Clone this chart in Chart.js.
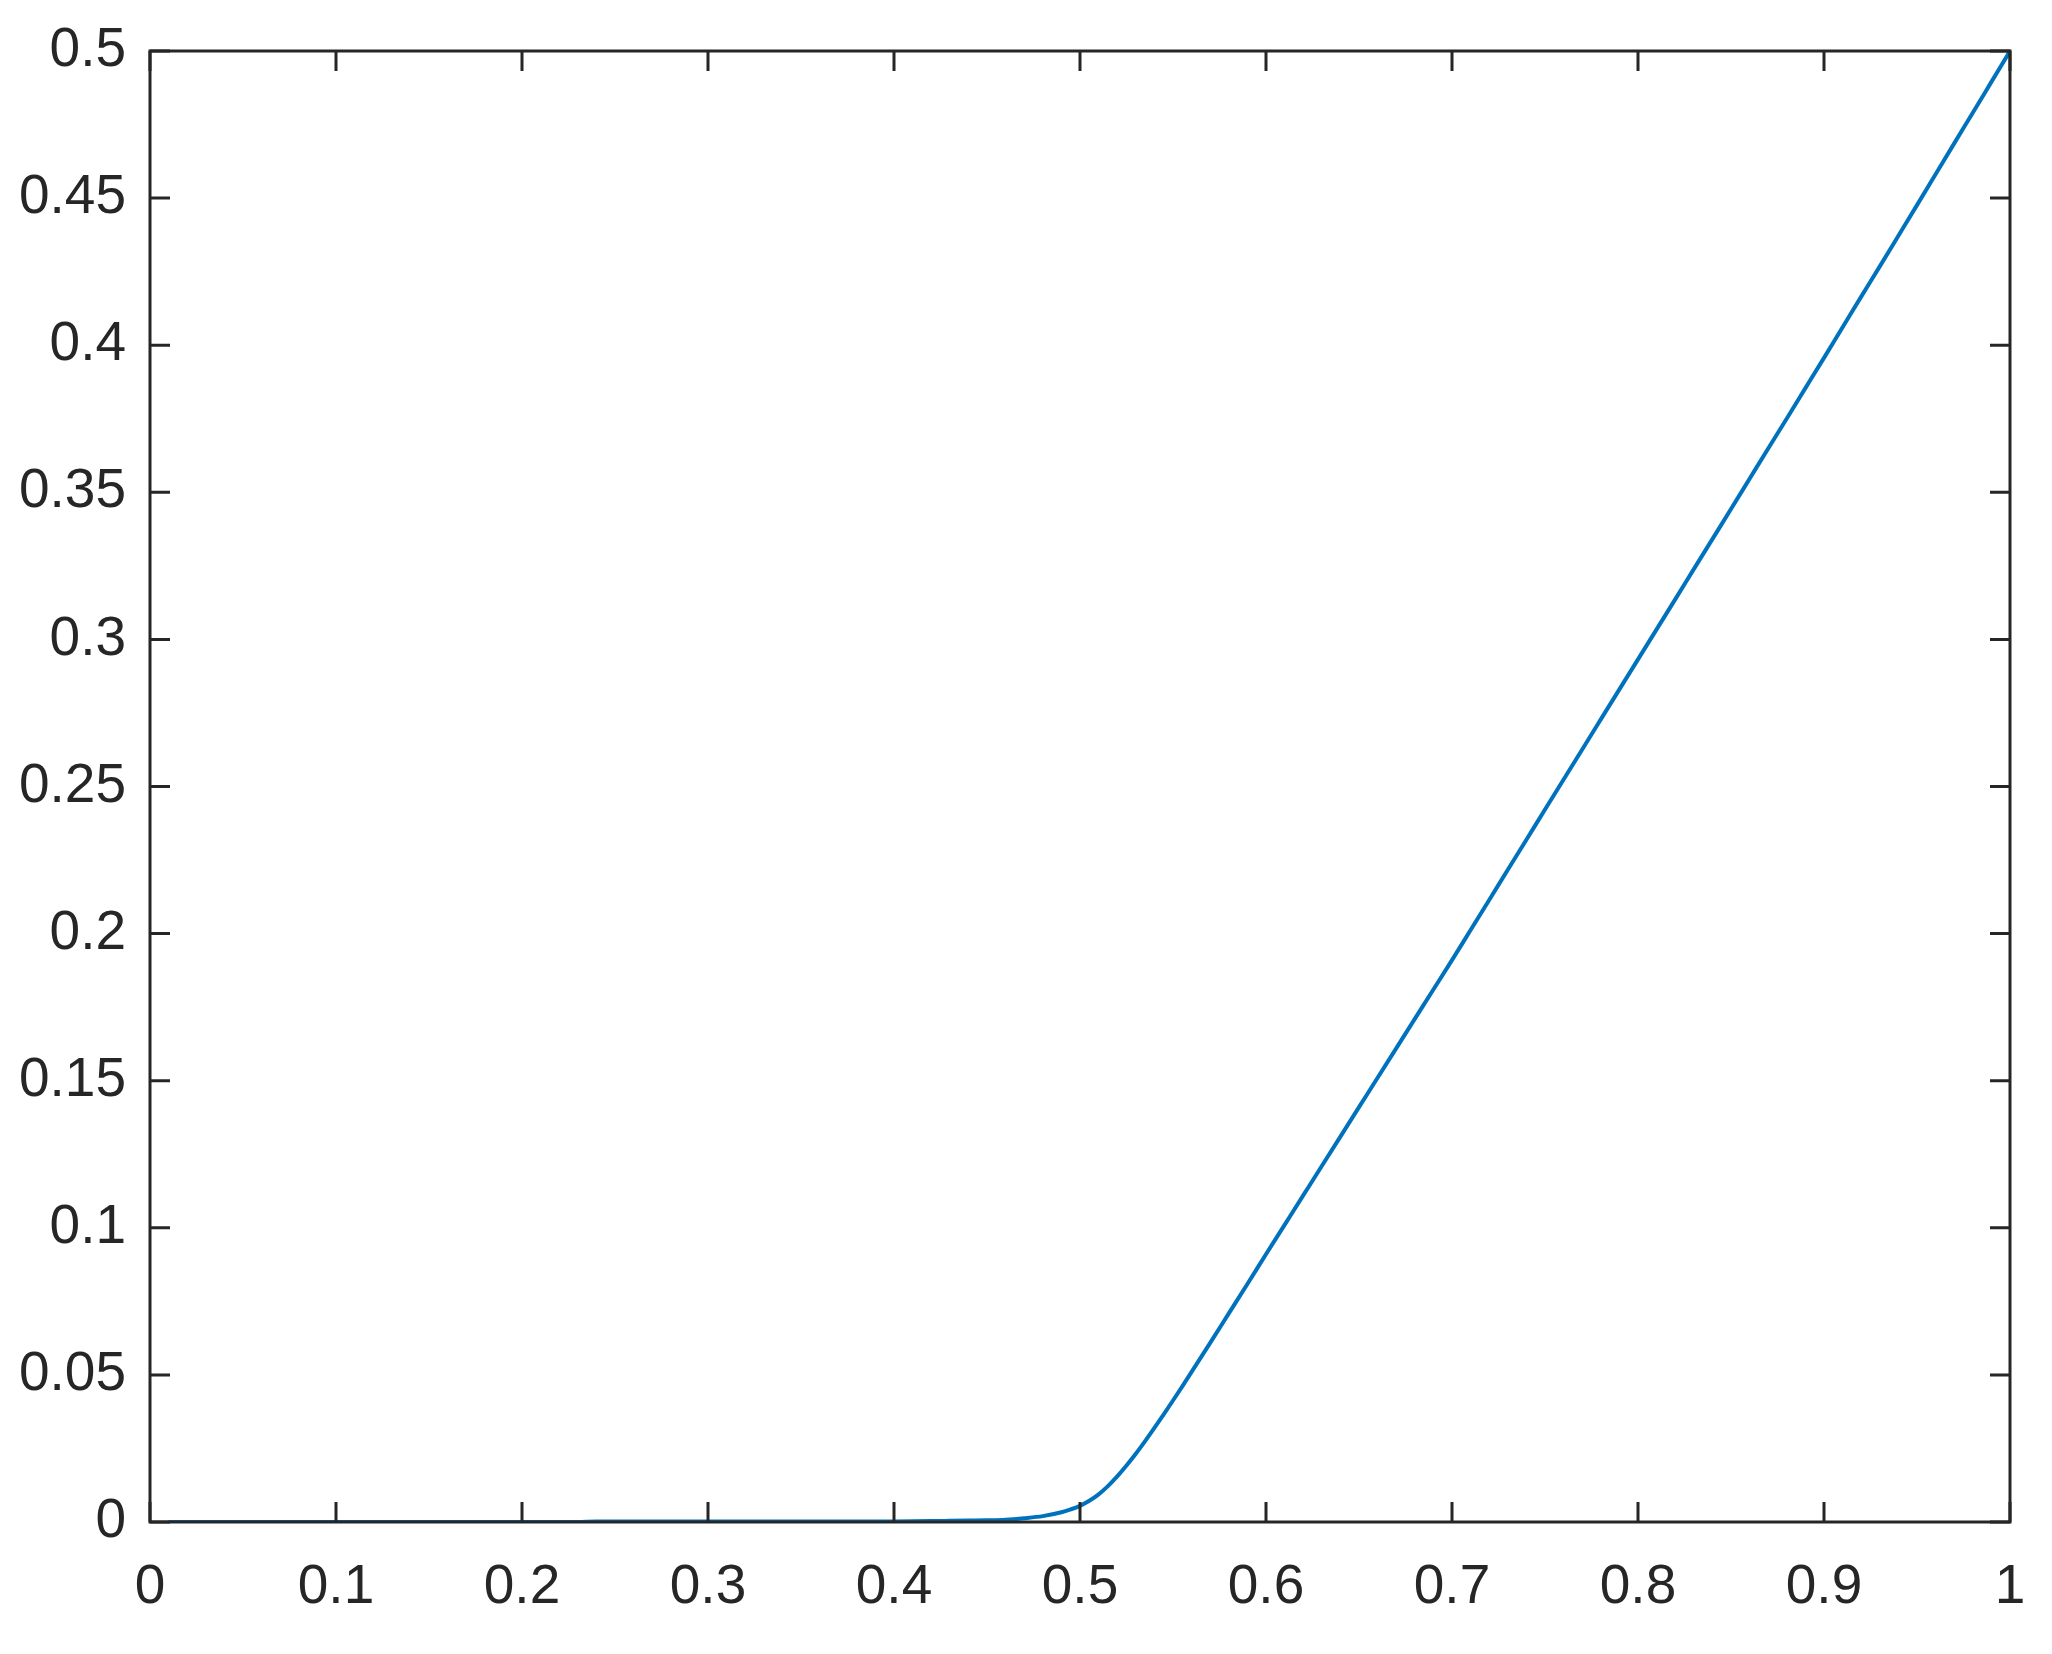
<!DOCTYPE html>
<html>
<head>
<meta charset="utf-8">
<script src="https://cdn.jsdelivr.net/npm/chart.js@4/dist/chart.umd.min.js"></script>
<style>
  html, body { margin: 0; padding: 0; background: #fff; }
  #wrap { width: 2052px; height: 1654px; }
</style>
</head>
<body>
<div id="wrap"><canvas id="curveChart" width="2052" height="1654"></canvas></div>
<script>
// values
const xValues = [
    0.01, 0.1, 0.2, 0.23, 0.24, 0.3, 0.35, 0.4, 0.42, 0.43, 0.44, 0.45, 0.46, 0.47, 0.48, 0.49, 0.495,
    0.50, 0.505, 0.51, 0.515, 0.52, 0.525, 0.53, 0.535, 0.54, 0.545, 0.55, 0.555, 0.56, 0.57, 0.58, 0.59,
    0.60, 0.61, 0.62, 0.63, 0.64, 0.65, 0.66, 0.67, 0.68, 0.69,
    0.70, 0.71, 0.72, 0.73, 0.74, 0.75, 0.76, 0.77, 0.78, 0.79,
    0.80, 0.81, 0.82, 0.83, 0.84, 0.85, 0.86, 0.87, 0.88, 0.89,
    0.90, 0.91, 0.92, 0.93, 0.94, 0.95, 0.96, 0.97, 0.98, 0.99, 1.00
];
const yValues = [
    0, 0, 0, 0, 0.0002, 0.0002, 0.0002, 0.0002, 0.0003, 0.0004, 0.0005, 0.0006, 0.0008, 0.0013, 0.002, 0.0033, 0.0043,
    0.0055, 0.0072, 0.0094, 0.0122, 0.0155, 0.0192, 0.0232, 0.0275, 0.032, 0.0366, 0.0413, 0.0461, 0.051, 0.0609, 0.0709, 0.0809,
    0.091, 0.101, 0.111, 0.121, 0.131, 0.141, 0.151, 0.161, 0.171, 0.181,
    0.191, 0.2012, 0.2114, 0.2217, 0.2319, 0.2422, 0.2524, 0.2626, 0.2728, 0.283,
    0.2932, 0.3034, 0.3136, 0.3239, 0.3341, 0.3443, 0.3546, 0.3649, 0.3751, 0.3854,
    0.3957, 0.4061, 0.4165, 0.4268, 0.4372, 0.4476, 0.4581, 0.4686, 0.479, 0.4895, 0.5
];
const xTicks = [0, 0.1, 0.2, 0.3, 0.4, 0.5, 0.6, 0.7, 0.8, 0.9, 1];
const yTicks = [0, 0.05, 0.1, 0.15, 0.2, 0.25, 0.3, 0.35, 0.4, 0.45, 0.5];

const AXIS_COLOR = '#262626';
const LINE_COLOR = '#0072BD';
const TICK_LEN = 20;

// draws the box round the plot and the inward tick marks on all four sides
const boxPlugin = {
    id: 'boxPlugin',
    afterDatasetsDraw(chart) {
        const {ctx, chartArea: a, scales} = chart;
        ctx.save();
        ctx.strokeStyle = AXIS_COLOR;
        ctx.lineWidth = 3;
        ctx.beginPath();
        xTicks.forEach(v => {
            const px = scales.x.getPixelForValue(v);
            ctx.moveTo(px, a.bottom); ctx.lineTo(px, a.bottom - TICK_LEN);
            ctx.moveTo(px, a.top); ctx.lineTo(px, a.top + TICK_LEN);
        });
        yTicks.forEach(v => {
            const py = scales.y.getPixelForValue(v);
            ctx.moveTo(a.left, py); ctx.lineTo(a.left + TICK_LEN, py);
            ctx.moveTo(a.right, py); ctx.lineTo(a.right - TICK_LEN, py);
        });
        ctx.stroke();
        ctx.strokeRect(a.left, a.top, a.right - a.left, a.bottom - a.top);
        ctx.restore();
    }
};

// no label overhang padding, so the layout padding alone places the plot box
function noOverhang(s) {
    s.paddingTop = 0;
    s.paddingBottom = 0;
    s.paddingLeft = 0;
    s.paddingRight = 0;
}

const tickFont = { family: '"Liberation Sans", Arial, sans-serif', size: 55 };

const ctx = document.getElementById('curveChart');
new Chart(ctx, {
    type: 'line',
    data: {
        datasets: [{
            data: xValues.map((x, i) => ({x: x, y: yValues[i]})),
            borderColor: LINE_COLOR,
            borderWidth: 4,
            pointRadius: 0,
            pointHoverRadius: 0,
            cubicInterpolationMode: 'monotone',
            fill: false
        }]
    },
    options: {
        responsive: false,
        animation: false,
        layout: { autoPadding: false, padding: { top: 51, right: 42, left: 0, bottom: 0 } },
        plugins: { legend: { display: false }, tooltip: { enabled: false } },
        scales: {
            x: {
                type: 'linear',
                min: 0,
                max: 1,
                afterFit: s => { s.height = 132; noOverhang(s); },
                afterBuildTicks: s => { s.ticks = xTicks.map(v => ({value: v})); },
                grid: { display: false, drawTicks: false },
                border: { display: false },
                ticks: {
                    color: AXIS_COLOR,
                    font: tickFont,
                    padding: 33,
                    maxRotation: 0,
                    callback: v => String(v)
                }
            },
            y: {
                type: 'linear',
                min: 0,
                max: 0.5,
                afterFit: s => { s.width = 150; noOverhang(s); },
                afterBuildTicks: s => { s.ticks = yTicks.map(v => ({value: v})); },
                grid: { display: false, drawTicks: false },
                border: { display: false },
                ticks: {
                    color: AXIS_COLOR,
                    font: tickFont,
                    padding: 24,
                    callback: v => String(v)
                }
            }
        }
    },
    plugins: [boxPlugin]
});
</script>
</body>
</html>
